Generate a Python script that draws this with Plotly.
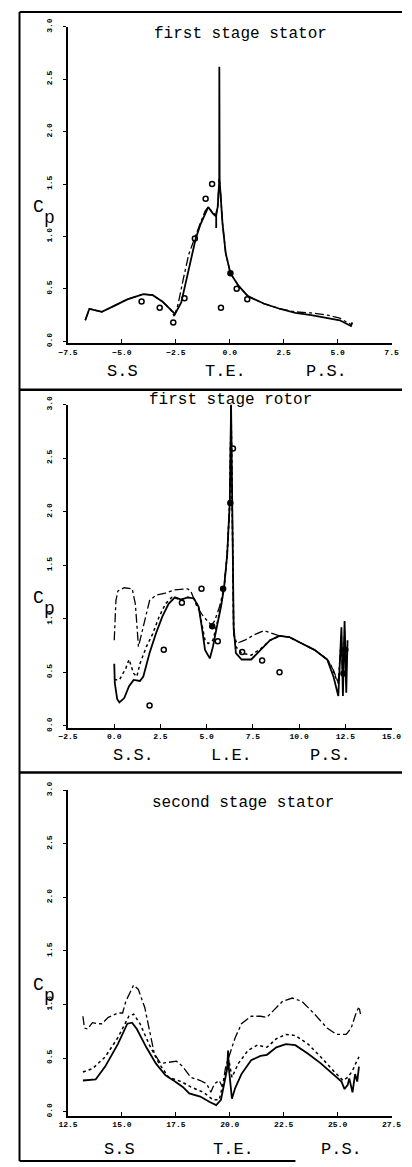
import plotly.graph_objects as go

W, H = 412, 1167

# ---------------- Panel 1: first stage stator ----------------
s1_solid_x = [-6.70, -6.60, -6.51, -6.32, -5.93, -5.34, -4.75, -4.01, -3.57, -3.13, -2.76, -2.54, -2.25, -2.03, -1.81, -1.59, -1.37, -1.15, -1.00, -0.79, -0.63, -0.63, -0.63, -0.56, -0.49, -0.485, -0.47, -0.34, -0.19, 0.03, 0.40, 0.84, 1.57, 2.31, 3.04, 3.78, 4.51, 5.10, 5.62, 5.68]
s1_solid_y = [0.20, 0.27, 0.31, 0.30, 0.28, 0.34, 0.40, 0.45, 0.44, 0.38, 0.31, 0.26, 0.37, 0.56, 0.78, 0.97, 1.11, 1.22, 1.28, 1.22, 1.19, 1.08, 1.22, 1.28, 1.53, 2.62, 1.53, 1.13, 0.84, 0.65, 0.53, 0.43, 0.36, 0.31, 0.27, 0.25, 0.22, 0.20, 0.145, 0.18]
s1_dd_x = [-6.70, -6.60, -6.51, -6.32, -5.93, -5.34, -4.75, -4.01, -3.57, -3.13, -2.76, -2.58, -2.40, -2.15, -1.90, -1.60, -1.37, -1.15, -1.00, -0.80, -0.62, -0.55, -0.50, -0.45, -0.34, -0.19, 0.03, 0.40, 0.84, 1.57, 2.31, 3.04, 3.78, 4.51, 5.10, 5.62]
s1_dd_y = [0.20, 0.27, 0.31, 0.30, 0.28, 0.34, 0.40, 0.45, 0.44, 0.38, 0.31, 0.24, 0.35, 0.60, 0.83, 1.00, 1.13, 1.24, 1.28, 1.23, 1.20, 1.30, 1.55, 1.50, 1.13, 0.84, 0.65, 0.53, 0.43, 0.36, 0.31, 0.28, 0.27, 0.25, 0.22, 0.16]
s1_exp_x = [-4.09, -3.25, -2.62, -2.10, -1.62, -1.12, -0.82, -0.41, 0.32, 0.81]
s1_exp_y = [0.38, 0.32, 0.18, 0.41, 0.98, 1.36, 1.50, 0.32, 0.50, 0.40]
s1_fill_x = [0.03]
s1_fill_y = [0.65]

# ---------------- Panel 2: first stage rotor ----------------
r_solid_x = [0.0, 0.03, 0.16, 0.28, 0.54, 0.80, 1.05, 1.39, 1.57, 1.91, 2.25, 2.60, 2.94, 3.28, 3.62, 3.97, 4.31, 4.57, 4.74, 4.91, 5.17, 5.34, 5.51, 5.77, 5.94, 6.11, 6.25, 6.32, 6.46, 6.58, 6.89, 7.41, 7.92, 8.43, 8.94, 9.46, 10.15, 10.83, 11.52, 11.86, 12.12, 12.29, 12.37, 12.46, 12.55, 12.62]
r_solid_y = [0.58, 0.40, 0.25, 0.22, 0.26, 0.37, 0.43, 0.42, 0.46, 0.68, 0.86, 1.02, 1.14, 1.20, 1.18, 1.20, 1.19, 1.11, 0.92, 0.71, 0.63, 0.74, 0.89, 1.11, 1.29, 1.60, 2.09, 3.00, 0.92, 0.68, 0.62, 0.62, 0.71, 0.80, 0.84, 0.83, 0.77, 0.71, 0.62, 0.46, 0.28, 0.92, 0.28, 0.98, 0.31, 0.80]
r_dd_x = [0.0, 0.09, 0.20, 0.54, 0.97, 1.14, 1.31, 1.39, 1.65, 1.91, 2.25, 2.76, 3.28, 3.97, 4.14, 4.48, 4.83, 5.26, 5.43, 5.69, 5.94, 6.11, 6.25, 6.32, 6.46, 6.63, 7.06, 7.57, 8.09, 8.43, 8.94, 9.46, 10.15, 10.83, 11.52, 11.86, 12.12, 12.29, 12.37, 12.46, 12.55]
r_dd_y = [0.80, 1.17, 1.26, 1.29, 1.28, 1.14, 0.74, 0.80, 0.98, 1.17, 1.22, 1.24, 1.27, 1.28, 1.26, 1.11, 1.02, 0.94, 0.98, 1.11, 1.29, 1.60, 2.09, 3.00, 0.86, 0.77, 0.80, 0.85, 0.89, 0.87, 0.84, 0.83, 0.77, 0.71, 0.62, 0.52, 0.40, 0.85, 0.35, 0.90, 0.40]
r_dot_x = [0.0, 0.28, 0.63, 0.80, 1.05, 1.22, 1.39, 1.74, 2.08, 2.43, 2.77, 3.11, 3.62, 3.97, 4.31, 4.57, 4.74, 4.91, 5.08, 5.34, 5.51, 5.77, 5.94, 6.11, 6.25, 6.32, 6.46, 6.58, 6.89, 7.41, 7.92, 8.43, 8.94, 9.46, 10.15, 10.83, 11.52, 11.69, 12.03, 12.20]
r_dot_y = [0.43, 0.43, 0.54, 0.62, 0.49, 0.46, 0.58, 0.74, 0.86, 1.02, 1.14, 1.20, 1.18, 1.20, 1.19, 1.11, 0.95, 0.80, 0.77, 0.80, 0.92, 1.11, 1.29, 1.60, 2.09, 3.00, 0.88, 0.74, 0.68, 0.66, 0.72, 0.80, 0.84, 0.83, 0.77, 0.71, 0.62, 0.58, 0.43, 0.37]
r_exp_x = [1.91, 2.68, 3.66, 4.72, 5.60, 6.42, 6.92, 8.00, 8.94]
r_exp_y = [0.19, 0.71, 1.15, 1.28, 0.79, 2.59, 0.69, 0.61, 0.50]
r_fill_x = [5.30, 5.89, 6.28, 12.40, 12.50]
r_fill_y = [0.93, 1.28, 2.08, 0.49, 0.71]

# ---------------- Panel 3: second stage stator ----------------
s2_solid_x = [13.19, 13.78, 14.22, 14.81, 15.25, 15.47, 15.69, 16.13, 16.57, 17.01, 17.46, 17.82, 18.12, 18.63, 19.07, 19.37, 19.59, 19.74, 19.88, 19.92, 19.96, 20.10, 20.25, 20.54, 20.99, 21.43, 21.72, 22.16, 22.60, 23.04, 23.63, 24.22, 24.81, 25.18, 25.32, 25.47, 25.54, 25.69, 25.81, 25.91, 25.99]
s2_solid_y = [0.29, 0.30, 0.42, 0.63, 0.82, 0.83, 0.77, 0.60, 0.45, 0.34, 0.28, 0.23, 0.17, 0.14, 0.09, 0.06, 0.11, 0.26, 0.40, 0.57, 0.40, 0.12, 0.22, 0.35, 0.48, 0.52, 0.53, 0.60, 0.63, 0.62, 0.54, 0.45, 0.35, 0.28, 0.21, 0.25, 0.31, 0.18, 0.35, 0.28, 0.42]
s2_dot_x = [13.19, 13.63, 14.22, 14.81, 15.32, 15.54, 15.84, 16.28, 16.72, 17.16, 17.75, 18.19, 18.78, 19.22, 19.51, 19.74, 19.96, 20.10, 20.40, 20.84, 21.28, 21.72, 22.16, 22.60, 23.04, 23.63, 24.22, 24.81, 25.25, 25.47, 25.69, 25.84, 25.99]
s2_dot_y = [0.37, 0.40, 0.51, 0.69, 0.89, 0.91, 0.82, 0.62, 0.45, 0.32, 0.28, 0.23, 0.18, 0.11, 0.11, 0.29, 0.48, 0.32, 0.45, 0.57, 0.62, 0.60, 0.68, 0.72, 0.71, 0.63, 0.51, 0.38, 0.29, 0.32, 0.38, 0.45, 0.51]
s2_dd_x = [13.19, 13.26, 13.41, 13.63, 13.85, 14.07, 14.37, 14.81, 15.03, 15.18, 15.54, 15.76, 16.06, 16.28, 16.50, 16.79, 17.16, 17.53, 17.82, 18.19, 18.63, 18.93, 19.12, 19.29, 19.51, 19.66, 19.81, 19.96, 20.25, 20.54, 20.99, 21.43, 21.72, 22.01, 22.45, 22.90, 23.34, 23.93, 24.51, 24.96, 25.40, 25.63, 25.84, 25.99, 26.06]
s2_dd_y = [0.89, 0.78, 0.77, 0.83, 0.82, 0.82, 0.88, 0.92, 0.92, 1.03, 1.18, 1.14, 0.97, 0.75, 0.54, 0.45, 0.46, 0.47, 0.42, 0.32, 0.29, 0.26, 0.18, 0.26, 0.29, 0.23, 0.42, 0.51, 0.69, 0.82, 0.89, 0.89, 0.88, 0.94, 1.03, 1.06, 1.03, 0.91, 0.78, 0.72, 0.72, 0.78, 0.91, 0.98, 0.91]

y_ticks = [0.0, 0.5, 1.0, 1.5, 2.0, 2.5, 3.0]
x_ticks = [
    [-7.5, -5.0, -2.5, 0.0, 2.5, 5.0, 7.5],
    [-2.5, 0.0, 2.5, 5.0, 7.5, 10.0, 12.5, 15.0],
    [12.5, 15.0, 17.5, 20.0, 22.5, 25.0, 27.5],
]
titles = ["first stage stator", "first stage rotor", "second stage stator"]
bottom_labels = [["S.S", "T.E.", "P.S."], ["S.S.", "L.E.", "P.S."], ["S.S", "T.E.", "P.S."]]
x_ranges = [[-7.5, 7.5], [-2.5, 15.0], [12.5, 27.5]]


def fx(px):
    return px / W


def fy(py):
    return 1 - py / H


fig = go.Figure()

geo = [(338, 18), (727, 400), (1119, 790)]
zero_px = [336, 725, 1115]

solid = dict(color="black", width=1.8)
dd = dict(color="black", width=1.3, dash="dashdot")
dotted = dict(color="black", width=1.5, dash="dot")


def add_line(x, y, line, ax):
    fig.add_trace(go.Scatter(x=x, y=y, mode="lines", line=line, xaxis="x" + ax, yaxis="y" + ax,
                             showlegend=False, hoverinfo="skip"))


def add_pts(x, y, filled, ax):
    fig.add_trace(go.Scatter(x=x, y=y, mode="markers", xaxis="x" + ax, yaxis="y" + ax, showlegend=False,
                             marker=dict(symbol="circle" if filled else "circle-open", size=5,
                                         color="black", line=dict(width=1.5, color="black"))))


add_line(s1_dd_x, s1_dd_y, dd, "")
add_line(s1_solid_x, s1_solid_y, solid, "")
add_pts(s1_exp_x, s1_exp_y, False, "")
add_pts(s1_fill_x, s1_fill_y, True, "")

add_line(r_dd_x, r_dd_y, dd, "2")
add_line(r_dot_x, r_dot_y, dotted, "2")
add_line(r_solid_x, r_solid_y, solid, "2")
add_pts(r_exp_x, r_exp_y, False, "2")
add_pts(r_fill_x, r_fill_y, True, "2")

add_line(s2_dd_x, s2_dd_y, dd, "3")
add_line(s2_dot_x, s2_dot_y, dotted, "3")
add_line(s2_solid_x, s2_solid_y, solid, "3")

tickfont = dict(family="Liberation Mono", size=8, color="black", weight="bold")
layout = {}
for i in range(3):
    suf = "" if i == 0 else str(i + 1)
    axis_px, top_px = geo[i]
    z = zero_px[i]
    per_unit = (z - top_px) / 3.0
    ymin = -(axis_px - z) / per_unit
    layout["xaxis" + suf] = dict(
        domain=[fx(61), fx(401)], range=x_ranges[i], anchor="y" + suf,
        tickvals=x_ticks[i], tickformat=".1f",
        showline=True, linecolor="black", linewidth=1.8, ticks="inside", ticklen=4,
        tickcolor="black", showgrid=False, zeroline=False, tickfont=tickfont,
        fixedrange=True)
    layout["yaxis" + suf] = dict(
        domain=[fy(axis_px), fy(top_px)], range=[ymin, 3.0], anchor="x" + suf,
        tickvals=y_ticks, tickformat=".1f", tickangle=-90, ticklabelstandoff=8,
        showline=True, linecolor="black", linewidth=1.8, ticks="outside", ticklen=3,
        tickcolor="black", showgrid=False, zeroline=False, tickfont=tickfont,
        fixedrange=True)

fig.update_layout(**layout)

ann = []
title_pos = [(242, 25), (232, 395), (245, 803)]
bot_y = [367, 755, 1153]
bot_x = [[118, 227, 333], [130, 233, 337], [115, 235, 348]]
cp_pos = [(30, 200), (30, 596), (30, 987)]
for i in range(3):
    ann.append(dict(x=fx(title_pos[i][0]), y=fy(title_pos[i][1]), xref="paper", yref="paper",
                    text=titles[i], showarrow=False, xanchor="center", yanchor="middle",
                    font=dict(family="Liberation Mono", size=16, color="black")))
    for j in range(3):
        ann.append(dict(x=fx(bot_x[i][j]), y=fy(bot_y[i]), xref="paper", yref="paper",
                        text=bottom_labels[i][j], showarrow=False, xanchor="center", yanchor="middle",
                        font=dict(family="Liberation Mono", size=17, color="black")))
    ann.append(dict(x=fx(cp_pos[i][0]), y=fy(cp_pos[i][1]), xref="paper", yref="paper",
                    text="C", showarrow=False, xanchor="center", yanchor="middle",
                    font=dict(family="Liberation Mono", size=18, color="black")))
    ann.append(dict(x=fx(cp_pos[i][0] + 12), y=fy(cp_pos[i][1] + 11), xref="paper", yref="paper",
                    text="p", showarrow=False, xanchor="center", yanchor="middle",
                    font=dict(family="Liberation Mono", size=18, color="black")))

shapes = [
    dict(type="line", xref="paper", yref="paper", x0=fx(10), x1=fx(10), y0=fy(3), y1=fy(1165),
         line=dict(color="black", width=2)),
    dict(type="line", xref="paper", yref="paper", x0=fx(10), x1=1, y0=fy(3), y1=fy(3),
         line=dict(color="black", width=2)),
    dict(type="line", xref="paper", yref="paper", x0=fx(10), x1=1, y0=fy(385), y1=fy(385),
         line=dict(color="black", width=2.5)),
    dict(type="line", xref="paper", yref="paper", x0=fx(10), x1=1, y0=fy(772), y1=fy(772),
         line=dict(color="black", width=2.5)),
    dict(type="line", xref="paper", yref="paper", x0=fx(10), x1=fx(300), y0=fy(1165), y1=fy(1165),
         line=dict(color="black", width=2)),
]

fig.update_layout(width=W, height=H, margin=dict(l=0, r=0, t=0, b=0),
                  paper_bgcolor="white", plot_bgcolor="white",
                  annotations=ann, shapes=shapes, showlegend=False)

fig.write_html("out.html")
